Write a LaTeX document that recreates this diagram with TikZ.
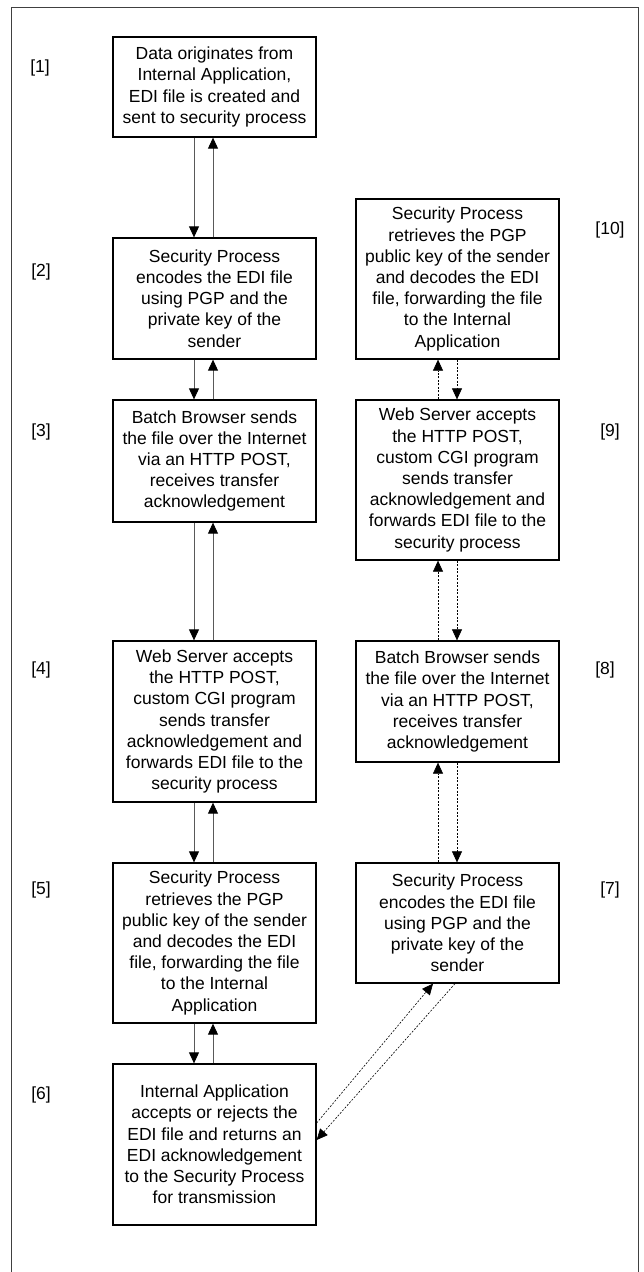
\documentclass[tikz,border=0pt]{standalone}
\usepackage{fontspec}
\setmainfont{Liberation Sans}
\usetikzlibrary{arrows.meta}

\tikzset{
  stage/.style={draw=black, line width=1.3pt, align=center, inner sep=0pt,
    minimum width=203pt, font=\fontsize{17.5}{21.2}\selectfont},
  tag/.style={font=\fontsize{17.5}{21.2}\selectfont},
  flow/.style={draw=black!65, line width=0.9pt,
    -{Triangle[length=11pt,width=10pt,fill=black,color=black]}},
  reply/.style={draw=black, line width=0.6pt, dash pattern=on 2pt off 1.5pt,
    -{Triangle[length=11pt,width=10pt,fill=black,color=black]}}
}

\begin{document}
\begin{tikzpicture}[x=1pt,y=-1pt]
      \useasboundingbox (0,0) rectangle (643,1272);
      \draw[black!75, line width=1pt] (11,1272) -- (11,7) -- (638,7) -- (638,1272);
      % sending side
      \draw
        (214.5,87) node[stage, minimum height=100pt] (s1){Data originates from\\Internal Application,\\EDI file is created and\\sent to security process}
        (214.5,298.5) node[stage, minimum height=121pt] (s2){Security Process\\encodes the EDI file\\using PGP and the\\private key of the\\sender}
        (214.5,461) node[stage, minimum height=122pt] (s3){Batch Browser sends\\the file over the Internet\\via an HTTP POST,\\receives transfer\\acknowledgement}
        (214.5,721.5) node[stage, minimum height=161pt] (s4){Web Server accepts\\the HTTP POST,\\custom CGI program\\sends transfer\\acknowledgement and\\forwards EDI file to the\\security process}
        (214.5,943) node[stage, minimum height=160pt] (s5){Security Process\\retrieves the PGP\\public key of the sender\\and decodes the EDI\\file, forwarding the file\\to the Internal\\Application}
        (214.5,1144.5) node[stage, minimum height=161pt] (s6){Internal Application\\accepts or rejects the\\EDI file and returns an\\EDI acknowledgement\\to the Security Process\\for transmission};
      % return side
      \draw
        (457.5,923) node[stage, minimum height=120pt] (s7){Security Process\\encodes the EDI file\\using PGP and the\\private key of the\\sender}
        (457.5,701.5) node[stage, minimum height=121pt] (s8){Batch Browser sends\\the file over the Internet\\via an HTTP POST,\\receives transfer\\acknowledgement}
        (457.5,480) node[stage, minimum height=160pt] (s9){Web Server accepts\\the HTTP POST,\\custom CGI program\\sends transfer\\acknowledgement and\\forwards EDI file to the\\security process}
        (457.5,279) node[stage, minimum height=160pt] (s10){Security Process\\retrieves the PGP\\public key of the sender\\and decodes the EDI\\file, forwarding the file\\to the Internal\\Application};
      % step numbers
      \draw
        (40,68) node[tag] (t1){[1]}
        (41,272) node[tag] (t2){[2]}
        (41,432) node[tag] (t3){[3]}
        (41,670) node[tag] (t4){[4]}
        (41,890) node[tag] (t5){[5]}
        (41,1095) node[tag] (t6){[6]}
        (610,890) node[tag] (t7){[7]}
        (605,670) node[tag] (t8){[8]}
        (610,432) node[tag] (t9){[9]}
        (610,230) node[tag] (t10){[10]};
      \begin{scope}[flow]
        \foreach \a/\b in {s1/s2, s2/s3, s3/s4, s4/s5, s5/s6} {
          \draw ([xshift=-20.5pt]\a.south) to ([xshift=-20.5pt]\b.north);
          \draw ([xshift=-1.5pt]\b.north) to ([xshift=-1.5pt]\a.south);
        }
      \end{scope}
      \begin{scope}[reply]
        \foreach \a/\b in {s7/s8, s8/s9, s9/s10} {
          \draw ([xshift=-19.5pt]\a.north) to ([xshift=-19.5pt]\b.south);
          \draw ([xshift=-0.5pt]\b.south) to ([xshift=-0.5pt]\a.north);
        }
        \draw ([yshift=21.5pt]s6.east) to ([xshift=-24.5pt]s7.south);
        \draw ([xshift=-2.5pt]s7.south) to ([yshift=4.5pt]s6.east);
      \end{scope}
    \end{tikzpicture}
\end{document}
